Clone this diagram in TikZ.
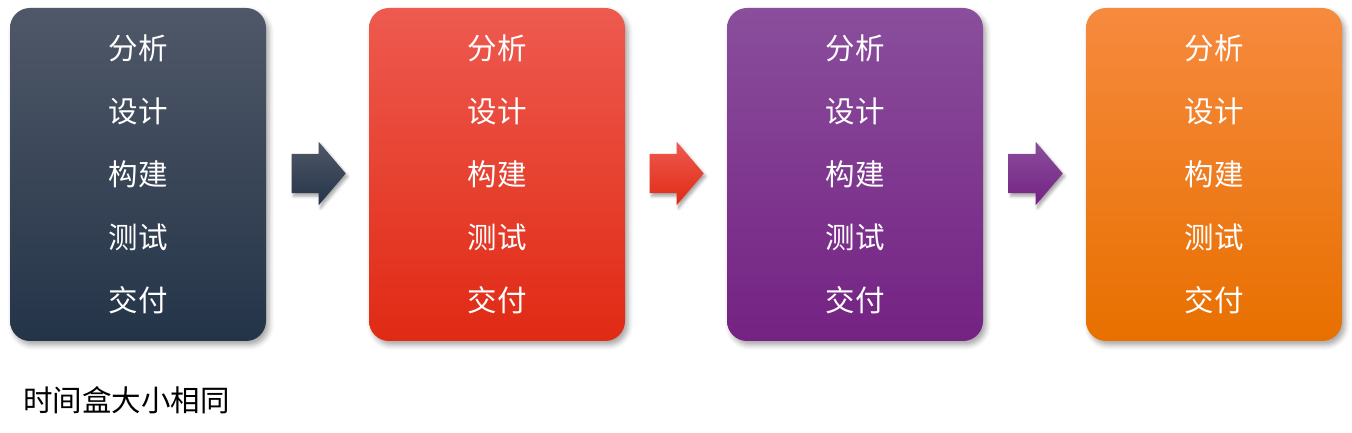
\documentclass[tikz,border=0pt]{standalone}
\usepackage{fontspec}
\setmainfont{Noto Sans CJK SC}
\usepackage{xcolor}
\usepackage{tikz}
\usetikzlibrary{positioning, shapes.arrows, shadows.blur}

\definecolor{slateTop}{HTML}{4F5868}
\definecolor{slateMid}{HTML}{2E3E55}
\definecolor{slateBot}{HTML}{243448}
\definecolor{redTop}{HTML}{EE5A4F}
\definecolor{redMid}{HTML}{EE3625}
\definecolor{redBot}{HTML}{E02A14}
\definecolor{purpleTop}{HTML}{8A4E9C}
\definecolor{purpleMid}{HTML}{7D3090}
\definecolor{purpleBot}{HTML}{742283}
\definecolor{orangeTop}{HTML}{F68A3E}
\definecolor{orangeMid}{HTML}{F77F00}
\definecolor{orangeBot}{HTML}{E87000}

\newcommand{\stagelist}{分析\\设计\\构建\\测试\\交付}

\begin{document}
\begin{tikzpicture}[
  x=1pt, y=1pt,
  box/.style={rounded corners=20pt, minimum width=256pt,
    minimum height=333pt, inner sep=0pt, align=center, text=white,
    font=\fontsize{29.5pt}{63pt}\selectfont,
    blur shadow={shadow xshift=3pt, shadow yshift=-4pt,
      shadow blur radius=5pt, shadow opacity=35}},
  flowarrow/.style={single arrow, single arrow head extend=12pt,
    single arrow tip angle=99, minimum height=54pt, minimum width=63pt,
    inner xsep=0pt, inner ysep=19.5pt, anchor=tip,
    blur shadow={shadow xshift=2pt, shadow yshift=-3pt,
      shadow blur radius=3pt, shadow opacity=35}},
]
  \useasboundingbox (0,0) rectangle (1352,433);

  \node[box, top color=slateTop, middle color=slateMid, bottom color=slateBot]    (plan)    at (138,258.5)  {\stagelist};
  \node[box, top color=redTop, middle color=redMid, bottom color=redBot]          (sprintA) at (497,258.5)  {\stagelist};
  \node[box, top color=purpleTop, middle color=purpleMid, bottom color=purpleBot] (sprintB) at (855,258.5)  {\stagelist};
  \node[box, top color=orangeTop, middle color=orangeMid, bottom color=orangeBot] (sprintC) at (1214,258.5) {\stagelist};

  \node[flowarrow, top color=slateTop, middle color=slateMid, bottom color=slateBot]    (go1) at (346,259.5)  {};
  \node[flowarrow, top color=redTop, middle color=redMid, bottom color=redBot]          (go2) at (704,259.5)  {};
  \node[flowarrow, top color=purpleTop, middle color=purpleMid, bottom color=purpleBot] (go3) at (1063,259.5) {};

  \node[anchor=west, inner sep=0pt, font=\fontsize{29.5pt}{34pt}\selectfont] (note) at (23,33) {时间盒大小相同};
\end{tikzpicture}
\end{document}
